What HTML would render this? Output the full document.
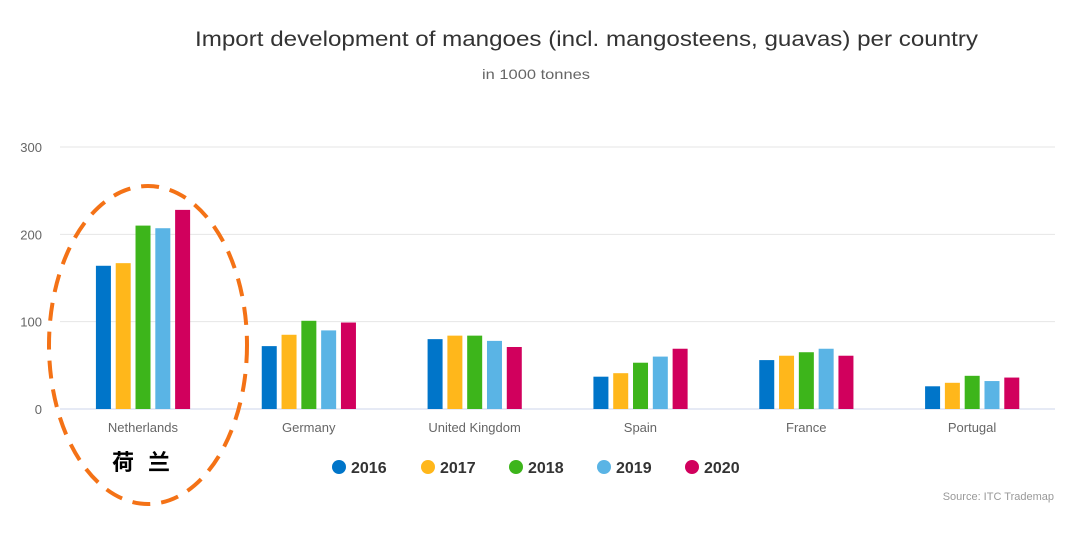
<!DOCTYPE html>
<html><head><meta charset="utf-8"><style>
html,body{margin:0;padding:0;background:#fff;width:1080px;height:533px;overflow:hidden}
svg{display:block;font-family:"Liberation Sans","Noto Sans CJK SC",sans-serif}
</style></head><body>
<svg id="chart" width="1080" height="533">
<text x="195" y="46" font-size="21" fill="#333" textLength="783" lengthAdjust="spacingAndGlyphs">Import development of mangoes (incl. mangosteens, guavas) per country</text>
<text x="482" y="79" font-size="14" fill="#666" textLength="108" lengthAdjust="spacingAndGlyphs">in 1000 tonnes</text>
<g id="grid"></g><g id="bars"></g><g id="xlabels"></g><g id="legend"></g>
<text x="1054" y="500" text-anchor="end" font-size="11" fill="#999">Source: ITC Trademap</text>
<ellipse cx="148" cy="345" rx="99" ry="159" fill="none" stroke="#f47216" stroke-width="4" stroke-dasharray="18 11"/>
<text x="148" y="470" text-anchor="middle" font-size="22" font-weight="bold" fill="#000" letter-spacing="14">荷兰</text>
</svg>
<script>
const categories=["Netherlands","Germany","United Kingdom","Spain","France","Portugal"];
const years=["2016","2017","2018","2019","2020"];
const colors=["#0075c9","#ffb71b","#3db51b","#5ab4e5","#d1005d"];
const s2016=[164,72,80,37,56,26];
const s2017=[167,85,84,41,61,30];
const s2018=[210,101,84,53,65,38];
const s2019=[207,90,78,60,69,32];
const s2020=[228,99,71,69,61,36];
const series=[s2016,s2017,s2018,s2019,s2020];
const yTicks=[0,100,200,300];
const NS="http://www.w3.org/2000/svg";
const x0=60,x1=1055,y0=409,yTop=147,yMax=300;
const y=v=>y0-(v/yMax)*(y0-yTop);
const bw=(x1-x0)/categories.length;
function mk(t,a,p){const e=document.createElementNS(NS,t);for(const k in a)e.setAttribute(k,a[k]);p.appendChild(e);return e;}
const grid=document.getElementById('grid');
yTicks.forEach(t=>{
 const l=mk('line',{x1:x0,x2:x1,y1:y(t),y2:y(t),stroke:t===0?'#ccd6eb':'#e6e6e6','stroke-width':1},grid);
 
 
 const tx=mk('text',{x:42,y:y(t)+5,'text-anchor':'end','font-size':13,fill:'#666'},grid);
 tx.textContent=t;
 
 
});
const bars=document.getElementById('bars'),xl=document.getElementById('xlabels');
categories.forEach((c,i)=>{
 const cx=x0+bw*(i+0.5);
 series.forEach((s,j)=>{
  const bx=cx-47+j*19.8;
  const r=mk('rect',{x:bx,y:y(s[i]),width:15,height:y0-y(s[i]),fill:colors[j]},bars);
  
  
 });
 const t=mk('text',{x:cx,y:432,'text-anchor':'middle','font-size':13,fill:'#666'},xl);
 t.textContent=c;
 
 
});
const lg=document.getElementById('legend');
const lx=[339,428,516,604,692];
years.forEach((yr,j)=>{
 const g=mk('g',{},lg);
 
 
 mk('circle',{cx:lx[j],cy:467,r:7,fill:colors[j]},g);
 const t=mk('text',{x:lx[j]+12,y:473,'font-size':16,'font-weight':'bold',fill:'#333'},g);
 t.textContent=yr;
});
</script>
</body></html>
